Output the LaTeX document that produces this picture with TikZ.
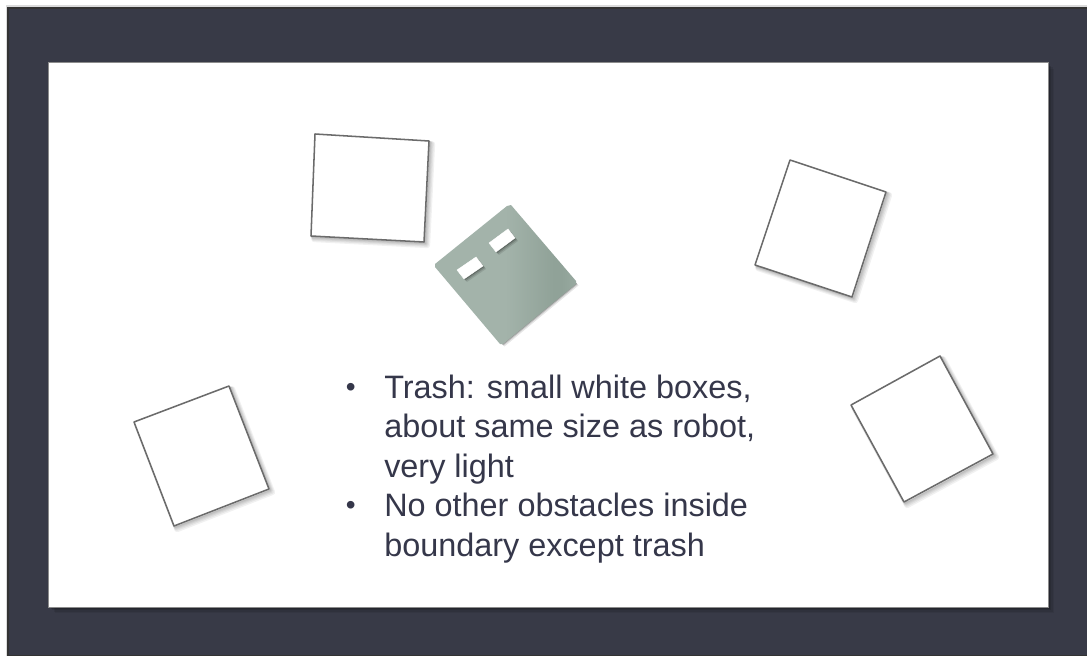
\documentclass[tikz,border=0pt]{standalone}
\usepackage{fontspec}
\setmainfont{Liberation Sans}
\definecolor{slateframe}{HTML}{383A47}
\definecolor{inktext}{HTML}{35374A}
\definecolor{robotbase}{HTML}{A3B3AA}
\definecolor{robotdark}{HTML}{90A298}
\definecolor{robotedge}{HTML}{98A9A0}
\pgfdeclarehorizontalshading{robotshade}{100bp}{
 color(0bp)=(robotbase); color(25bp)=(robotbase); color(50bp)=(robotbase);
 color(67bp)=(robotdark); color(70bp)=(robotdark); color(75bp)=(robotedge); color(100bp)=(robotedge)}
\tikzset{
 px/.style={x=0.75pt,y=-0.75pt},
 softshadow/.style={draw=black,line width=#1,draw opacity=0.055,line join=round},
 trashbox/.style={draw=black!58,line width=1.15pt,fill=white,line join=round},
 robotbody/.style={shading=robotshade,line join=round},
 sensorbox/.style={fill=white,draw=white,line width=0.3pt},
 bodytext/.style={font=\fontsize{24.3pt}{29.4pt}\selectfont,text=inktext,anchor=base west,inner sep=0pt,align=left},
 bulletmark/.style={font=\fontsize{21pt}{24pt}\selectfont,text=inktext,anchor=base west,inner sep=0pt}
}
\newcommand{\boxshadow}[4]{%
 \foreach \dx/\w in {3.2/4.4pt,2.6/3.4pt,2/2.6pt,1.6/1.8pt,1.2/1.2pt}{
  \draw[softshadow=\w,xshift=\dx*0.75pt,yshift=-\dx*0.75pt] #1 -- #2 -- #3 -- #4 -- cycle;}}
\begin{document}
\begin{tikzpicture}[px]
\useasboundingbox (0,0) rectangle (1087,656);
\fill[white] (0,0) rectangle (1087,656);
% frame
\fill[black!14] (6,5) rectangle (1087,656);
\fill[black!80] (7,7) rectangle (1087,656);
\fill[slateframe] (8.5,9) rectangle (1087,655);
% panel
\foreach \dx/\op in {6/0.06,4.5/0.08,3/0.10,1.5/0.14}{
 \fill[black,opacity=\op] (49+\dx,63+\dx) rectangle (1048+\dx,607+\dx);}
\fill[black!45] (48,62) rectangle (1049,608);
\fill[white] (49,63) rectangle (1048,606.5);
% boxes
\boxshadow{(315,134)}{(429,141)}{(424,242)}{(311,236)}
\draw[trashbox] (315,134) -- (429,141) -- (424,242) -- (311,236) -- cycle;
\boxshadow{(790,160)}{(886,192)}{(852,297)}{(755,265)}
\draw[trashbox] (790,160) -- (886,192) -- (852,297) -- (755,265) -- cycle;
\boxshadow{(134,422)}{(229,386)}{(269,489)}{(174,526)}
\draw[trashbox] (134,422) -- (229,386) -- (269,489) -- (174,526) -- cycle;
\boxshadow{(851,405)}{(940,356)}{(993,454)}{(904,502)}
\draw[trashbox] (851,405) -- (940,356) -- (993,454) -- (904,502) -- cycle;
% robot
\foreach \dx/\op in {2.5/0.10,1.5/0.16,0.8/0.22}{
 \fill[black,opacity=\op,xshift=\dx*0.75pt,yshift=-\dx*0.75pt] (509,205) -- (576,283) -- (502,344) -- (435,265) -- cycle;}
\path[robotbody] (507,206) -- (511,205) -- (576,281) -- (576,284) -- (503,344) -- (500,344) -- (435,267) -- (435,264) -- cycle;
\foreach \dx/\op in {3/0.10,2/0.15,1/0.22}{
 \fill[black,opacity=\op,xshift=\dx*0.75pt,yshift=-\dx*0.75pt] (457,270) -- (476,257) -- (483,266) -- (464,279) -- cycle;
 \fill[black,opacity=\op,xshift=\dx*0.75pt,yshift=-\dx*0.75pt] (489,243) -- (508,229) -- (515,238) -- (496,252) -- cycle;}
\fill[sensorbox] (457,270) -- (476,257) -- (483,266) -- (464,279) -- cycle;
\fill[sensorbox] (489,243) -- (508,229) -- (515,238) -- (496,252) -- cycle;
% text
\node[bulletmark] (bulleta) at (345.5,396.5) {•};
\node[bodytext] (itema) at (384,398) {Trash: small white boxes,};
\node[bodytext] (itemb) at (384,437) {about same size as robot,};
\node[bodytext] (itemc) at (384,477) {very light};
\node[bulletmark] (bulletb) at (345.5,514.5) {•};
\node[bodytext] (itemd) at (384,516) {No other obstacles inside};
\node[bodytext] (iteme) at (384,556) {boundary except trash};
\end{tikzpicture}
\end{document}
